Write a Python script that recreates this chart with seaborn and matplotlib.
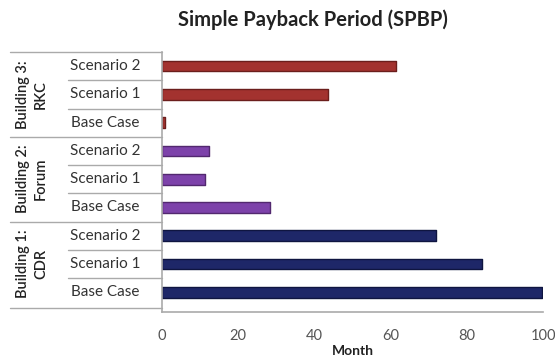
import matplotlib
matplotlib.use("Agg")
import matplotlib.pyplot as plt
import matplotlib.transforms as mtransforms
import seaborn as sns
import pandas as pd

# Payback data, top row first
buildings = ["Building 3:\nRKC", "Building 2:\nForum", "Building 1:\nCDR"]
scenarios = ["Scenario 2", "Scenario 1", "Base Case"]
spbp_b3 = [61.5, 43.5, 0.8]
spbp_b2 = [12.3, 11.3, 28.3]
spbp_b1 = [71.8, 84.0, 99.7]
bar_colors = ["#A3322F", "#7D42AA", "#1E2768"]
edge_colors = ["#6B1E1C", "#52286F", "#0F1540"]
x_ticks = [0, 20, 40, 60, 80, 100]

rows = []
for b, vals in zip(buildings, [spbp_b3, spbp_b2, spbp_b1]):
    for s, v in zip(scenarios, vals):
        rows.append({"building": b, "scenario": s, "row": f"{b}|{s}", "months": v})
df = pd.DataFrame(rows)

sns.set_theme(style="white")
plt.rcParams["font.family"] = ["Lato", "DejaVu Sans"]

fig = plt.figure(figsize=(5.55, 3.58), dpi=100)
ax = fig.add_axes([162 / 555, 1 - 312 / 358, 381 / 555, 260 / 358])

palette = {r: bar_colors[i // 3] for i, r in enumerate(df["row"])}
sns.barplot(data=df, y="row", x="months", hue="row", palette=palette,
            orient="h", width=0.38, legend=False, ax=ax, saturation=1)
for i, p in enumerate(ax.patches):
    p.set_edgecolor(edge_colors[i // 3])
    p.set_linewidth(1.0)
    p.set_joinstyle("round")

ax.set_xlim(0, 100)
ax.set_ylim(8.7, -0.5)
ax.set_xticks(x_ticks)
ax.set_xticklabels([str(t) for t in x_ticks], fontsize=10.5, color="#555555")
ax.tick_params(axis="x", length=3, color="#999999", pad=9)
ax.set_yticks([])
ax.set_ylabel("")
ax.set_xlabel("Month", fontsize=10, fontweight="bold", labelpad=2, color="#222222")
for side in ["top", "right"]:
    ax.spines[side].set_visible(False)
for side in ["left", "bottom"]:
    ax.spines[side].set_color("#AAAAAA")
    ax.spines[side].set_linewidth(1.2)

fig.text(313 / 555, 1 - 20 / 358, "Simple Payback Period (SPBP)", fontsize=14.5,
         fontweight="bold", color="#222222", ha="center", va="center")

# Hierarchical category labels on the left
trans = mtransforms.blended_transform_factory(ax.transAxes, ax.transData)
line_kw = dict(transform=trans, clip_on=False, color="#AAAAAA", lw=1.0)
x_outer = (10 - 162) / 381
x_inner = (68 - 162) / 381
for g, b in enumerate(buildings):
    top = g * 3 - 0.5
    ax.plot([x_outer, 0], [top, top], **line_kw)
    for k in range(1, 3):
        y = top + k
        ax.plot([x_inner, 0], [y, y], **line_kw)
    for k, s in enumerate(scenarios):
        ax.text((105 - 162) / 381, g * 3 + k, s, transform=trans,
                ha="center", va="center", fontsize=11, color="#333333")
    ax.text((32 - 162) / 381, g * 3 + 1, b, transform=trans, rotation=90,
            ha="center", va="center", fontsize=10.5, color="#222222",
            fontweight="semibold", linespacing=1.35)
ax.plot([x_outer, 0], [8.55, 8.55], **line_kw)

fig.savefig("out.png", dpi=100)
